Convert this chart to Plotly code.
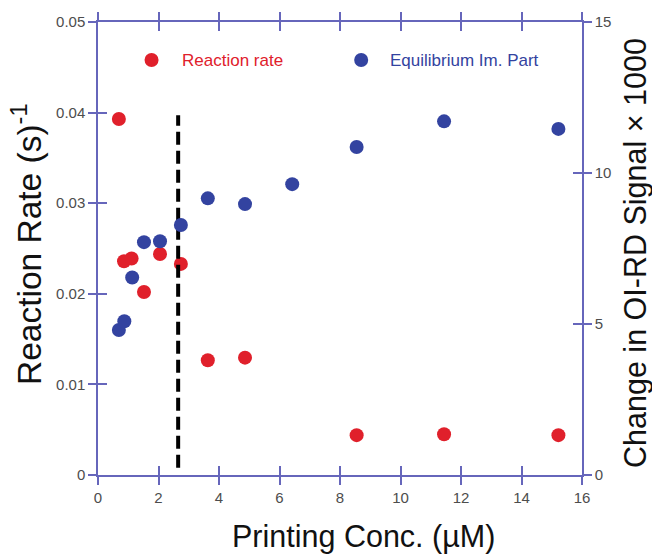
import plotly.graph_objects as go

# Data
rate_conc = [0.69, 0.86, 1.11, 1.52, 2.05, 2.74, 3.63, 4.86, 8.55, 11.44, 15.22]
rate_vals = [0.0393, 0.0236, 0.0239, 0.0202, 0.0244, 0.0233, 0.01266, 0.01295, 0.0044, 0.0045, 0.0044]

eq_conc = [0.69, 0.87, 1.13, 1.52, 2.05, 2.74, 3.63, 4.86, 6.42, 8.55, 11.44, 15.22]
eq_vals = [4.80, 5.09, 6.54, 7.71, 7.74, 8.28, 9.16, 8.97, 9.63, 10.86, 11.71, 11.46]

threshold_x = 2.65
threshold_y = [0.0008, 0.0397]

x_ticks = [0, 2, 4, 6, 8, 10, 12, 14, 16]
y_left_ticks = [0, 0.01, 0.02, 0.03, 0.04, 0.05]
y_left_text = ["0", "0.01", "0.02", "0.03", "0.04", "0.05"]
y_right_ticks = [0, 5, 10, 15]

RED = "#e0202b"
BLUE = "#3343a0"
AX = "#6666bb"
FAM = "Liberation Sans, Arial"
TICKFONT = dict(family=FAM, size=15, color="#4d4d4d")
TITLEFONT = dict(family=FAM, size=30.5, color="#111111")

fig = go.Figure()
fig.add_trace(go.Scatter(x=rate_conc, y=rate_vals, mode="markers", name="Reaction rate",
                         marker=dict(color=RED, size=14), xaxis="x", yaxis="y"))
fig.add_trace(go.Scatter(x=eq_conc, y=eq_vals, mode="markers", name="Equilibrium Im. Part",
                         marker=dict(color=BLUE, size=14), xaxis="x", yaxis="y2"))
fig.add_trace(go.Scatter(x=[threshold_x, threshold_x], y=threshold_y, mode="lines",
                         line=dict(color="black", width=4, dash="13px,6px"), showlegend=False,
                         xaxis="x", yaxis="y"))
# invisible helper traces for tick-crossing overlay axes
fig.add_trace(go.Scatter(x=[0], y=[0], xaxis="x2", yaxis="y3", showlegend=False,
                         mode="markers", marker=dict(opacity=0), hoverinfo="skip"))
fig.add_trace(go.Scatter(x=[0], y=[0], xaxis="x2", yaxis="y4", showlegend=False,
                         mode="markers", marker=dict(opacity=0), hoverinfo="skip"))

common = dict(showgrid=False, zeroline=False, tickcolor=AX, linecolor=AX, tickwidth=1.5)

L, R, T, B = 98, 70, 18, 80
W, H = 652, 555
fig.update_layout(
    width=W, height=H,
    margin=dict(l=L, r=R, t=T, b=B),
    paper_bgcolor="white", plot_bgcolor="white",
    showlegend=False,
    xaxis=dict(range=[0, 16], tickvals=x_ticks, ticks="outside", ticklen=8, showline=True,
               linewidth=1.5, mirror="ticks", tickfont=TICKFONT, **common),
    xaxis2=dict(range=[0, 16], tickvals=x_ticks, ticks="inside", ticklen=9, showline=False,
                mirror="ticks", overlaying="x", anchor="y3", showticklabels=False, **common),
    yaxis=dict(range=[0, 0.05], tickvals=y_left_ticks, ticktext=y_left_text, ticks="outside",
               ticklen=8, showline=True, linewidth=1.5, tickfont=TICKFONT, **common),
    yaxis3=dict(range=[0, 0.05], tickvals=y_left_ticks, ticks="inside", ticklen=9,
                showline=False, overlaying="y", side="left", showticklabels=False, **common),
    yaxis2=dict(range=[0, 15], tickvals=y_right_ticks, ticks="outside", ticklen=8, showline=True,
                linewidth=1.5, overlaying="y", side="right", tickfont=TICKFONT, **common),
    yaxis4=dict(range=[0, 15], tickvals=y_right_ticks, ticks="inside", ticklen=9,
                showline=False, overlaying="y", side="right", showticklabels=False, **common),
)

# axis titles as annotations; paper coords are relative to the plot area
PW, PH = W - L - R, H - T - B
def px(xp, yp):
    return (xp - L) / PW, (H - B - yp) / PH

ax_, ay_ = px(363, 537)
fig.add_annotation(x=ax_, y=ay_, xref="paper", yref="paper", text="Printing Conc. (µM)",
                   showarrow=False, font=TITLEFONT, xanchor="center", yanchor="middle")
ax_, ay_ = px(27, 242)
fig.add_annotation(x=ax_, y=ay_, xref="paper", yref="paper", text="Reaction Rate (s)<sup>-1</sup>",
                   showarrow=False, font=dict(family=FAM, size=33.5, color="#111111"), textangle=-90,
                   xanchor="center", yanchor="middle")
ax_, ay_ = px(636, 251)
fig.add_annotation(x=ax_, y=ay_, xref="paper", yref="paper", text="Change in OI-RD Signal × 1000",
                   showarrow=False, font=TITLEFONT, textangle=-90, xanchor="center", yanchor="middle")

# legend drawn as markers + coloured labels
fig.add_trace(go.Scatter(x=[1.77], y=[0.0458], mode="markers", marker=dict(color=RED, size=14),
                         showlegend=False, xaxis="x", yaxis="y", hoverinfo="skip"))
fig.add_trace(go.Scatter(x=[8.7], y=[0.0458], mode="markers", marker=dict(color=BLUE, size=14),
                         showlegend=False, xaxis="x", yaxis="y", hoverinfo="skip"))
fig.add_annotation(x=2.7, y=0.0458, xref="x", yref="y", text="Reaction rate", showarrow=False,
                   xanchor="left", font=dict(family=FAM, size=17, color=RED))
fig.add_annotation(x=9.6, y=0.0458, xref="x", yref="y", text="Equilibrium Im. Part", showarrow=False,
                   xanchor="left", font=dict(family=FAM, size=17, color=BLUE))

fig.write_html("out.html")
